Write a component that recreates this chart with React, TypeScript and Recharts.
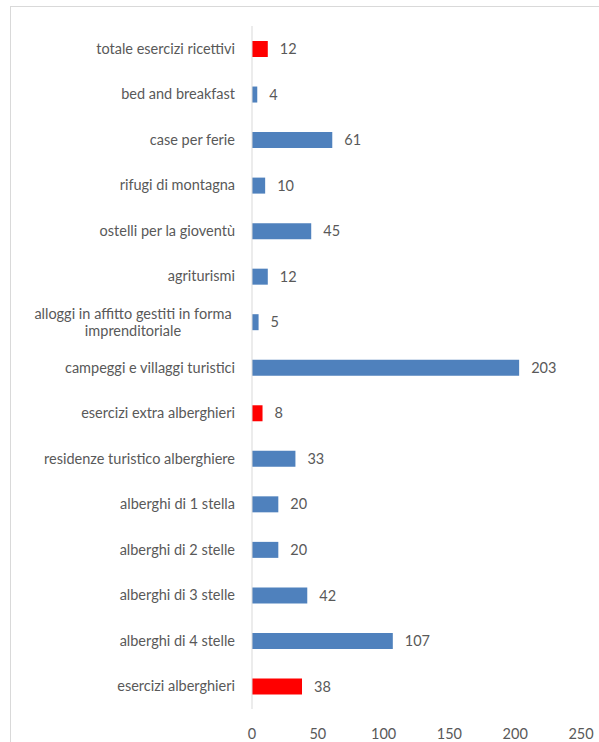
import React from 'react';
import { BarChart, Bar, XAxis, YAxis, Cell, LabelList } from 'recharts';

const categories = [
  'totale esercizi ricettivi',
  'bed and breakfast',
  'case per ferie',
  'rifugi di montagna',
  'ostelli per la gioventù',
  'agriturismi',
  'alloggi in affitto gestiti in forma imprenditoriale',
  'campeggi e villaggi turistici',
  'esercizi extra alberghieri',
  'residenze turistico alberghiere',
  'alberghi di 1 stella',
  'alberghi di 2 stelle',
  'alberghi di 3 stelle',
  'alberghi di 4 stelle',
  'esercizi alberghieri',
];
const values = [12, 4, 61, 10, 45, 12, 5, 203, 8, 33, 20, 20, 42, 107, 38];
const totals = ['totale esercizi ricettivi', 'esercizi extra alberghieri', 'esercizi alberghieri'];
const xTicks = [0, 50, 100, 150, 200, 250];

const data = categories.map((name, i) => ({ name, value: values[i] }));

const BLUE = '#4f81bd';
const RED = '#ff0000';
const TEXT = '#595959';
const FONT = 'Lato, "Liberation Sans", sans-serif';
const FS = 14.5;

// wraps long labels on two centred lines, like the original
const CategoryTick = (props: any) => {
  const { x, y, payload } = props;
  const label: string = payload.value;
  const words = label.split(' ');
  const lines: string[] = [];
  let cur = '';
  for (const w of words) {
    const next = cur ? cur + ' ' + w : w;
    if (next.length > 36 && cur) {
      lines.push(cur);
      cur = w;
    } else cur = next;
  }
  lines.push(cur);
  const right = x - 9;
  if (lines.length === 1) {
    return (
      <text x={right} y={y} dy={5} textAnchor="end" fill={TEXT} fontSize={FS} fontFamily={FONT}>
        {label}
      </text>
    );
  }
  const cx = 122;
  return (
    <text x={cx} y={y} textAnchor="middle" fill={TEXT} fontSize={FS} fontFamily={FONT}>
      {lines.map((l, i) => (
        <tspan key={i} x={cx} dy={i === 0 ? -3 : 17}>
          {l}
        </tspan>
      ))}
    </text>
  );
};

export default function App() {
  return (
    <div
      style={{
        position: 'absolute',
        left: 10,
        top: 6,
        width: 600,
        height: 750,
        border: '1px solid #d9d9d9',
        background: '#fff',
      }}
    >
      <BarChart
        width={588}
        height={735}
        data={data}
        layout="vertical"
        margin={{ top: 19, right: 18, left: 0, bottom: 0 }}
        barSize={16}
      >
        <XAxis
          type="number"
          domain={[0, 250]}
          ticks={xTicks}
          axisLine={false}
          tickLine={false}
          height={33}
          tick={{ fill: TEXT, fontSize: FS, fontFamily: FONT }}
          tickMargin={14}
        />
        <YAxis
          type="category"
          dataKey="name"
          width={241}
          axisLine={{ stroke: '#d9d9d9' }}
          tickLine={false}
          interval={0}
          tick={<CategoryTick />}
        />
        <Bar dataKey="value" isAnimationActive={false}>
          {data.map((d, i) => (
            <Cell key={i} fill={totals.includes(d.name) ? RED : BLUE} />
          ))}
          <LabelList
            dataKey="value"
            position="right"
            offset={12}
            fill={TEXT}
            fontSize={FS}
            fontFamily={FONT}
          />
        </Bar>
      </BarChart>
    </div>
  );
}
